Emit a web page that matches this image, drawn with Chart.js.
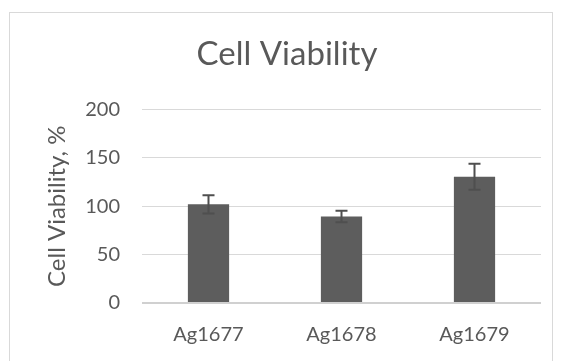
<!DOCTYPE html>
<html>
<head>
<meta charset="utf-8">
<script src="https://cdn.jsdelivr.net/npm/chart.js@4.4.1/dist/chart.umd.min.js"></script>
<style>
  html, body { margin: 0; padding: 0; background: #fff; }
  #wrap { position: relative; width: 561px; height: 361px; overflow: hidden; }
  #frame { position: absolute; left: 9px; top: 12px; width: 542px; height: 360px; border: 1px solid #d9d9d9; }
  #chart { position: absolute; left: 0; top: 0; }
</style>
</head>
<body>
<div id="wrap">
  <div id="frame"></div>
  <canvas id="chart" width="561" height="361"></canvas>
</div>
<script>
const samples = ['Ag1677', 'Ag1678', 'Ag1679']
const viability = [102, 89.5, 130.5]
const viabilityErr = [9.5, 6, 13.5]
const yTicks = [0, 50, 100, 150, 200]

const textColor = '#595959'
const fontFamily = 'Lato, "Open Sans", sans-serif'

// draws +/- error whiskers on top of each bar
const errorBars = {
    id: 'errorBars',
    afterDatasetsDraw(chart) {
        const ctx = chart.ctx
        const yScale = chart.scales.y
        const meta = chart.getDatasetMeta(0)
        ctx.save()
        ctx.strokeStyle = '#4f4f4f'
        ctx.lineWidth = 2
        meta.data.forEach((bar, i) => {
            const x = bar.x
            const hi = yScale.getPixelForValue(viability[i] + viabilityErr[i])
            const lo = yScale.getPixelForValue(viability[i] - viabilityErr[i])
            ctx.beginPath()
            ctx.moveTo(x, hi)
            ctx.lineTo(x, lo)
            ctx.moveTo(x - 6, hi)
            ctx.lineTo(x + 6, hi)
            ctx.moveTo(x - 6, lo)
            ctx.lineTo(x + 6, lo)
            ctx.stroke()
        })
        ctx.restore()
    }
}

const ctx = document.getElementById('chart').getContext('2d')

new Chart(ctx, {
    type: 'bar',
    data: {
        labels: samples,
        datasets: [{
            label: 'Cell Viability',
            data: viability,
            backgroundColor: '#5d5d5d',
            borderWidth: 0,
            barPercentage: 0.31,
            categoryPercentage: 1
        }]
    },
    options: {
        responsive: false,
        animation: false,
        layout: { padding: { left: 33, right: 20, top: 0, bottom: 0 } },
        plugins: {
            legend: { display: false },
            tooltip: { enabled: false },
            title: {
                display: true,
                text: 'Cell Viability',
                color: textColor,
                font: { family: fontFamily, size: 33, weight: 'normal' },
                padding: { top: 35, bottom: 35 }
            }
        },
        scales: {
            x: {
                grid: { display: false, drawTicks: false },
                border: { display: false },
                ticks: {
                    color: textColor,
                    font: { family: fontFamily, size: 20 },
                    padding: 20
                },
                afterFit(scale) { scale.height = 58 }
            },
            y: {
                min: 0,
                max: 200,
                afterBuildTicks(scale) { scale.ticks = yTicks.map(v => ({ value: v })) },
                grid: {
                    color: ctx => ctx.tick && ctx.tick.value === 0 ? '#d0d0d0' : '#d9d9d9',
                    lineWidth: ctx => ctx.tick && ctx.tick.value === 0 ? 2 : 1,
                    drawTicks: false
                },
                border: { display: false },
                ticks: {
                    color: textColor,
                    font: { family: fontFamily, size: 20 },
                    padding: 22
                },
                title: {
                    display: true,
                    text: 'Cell Viability, %',
                    color: textColor,
                    font: { family: fontFamily, size: 24 },
                    padding: { top: 10, bottom: 0 }
                },
                afterFit(scale) { scale.width = 109 }
            }
        }
    },
    plugins: [errorBars]
})
</script>
</body>
</html>
